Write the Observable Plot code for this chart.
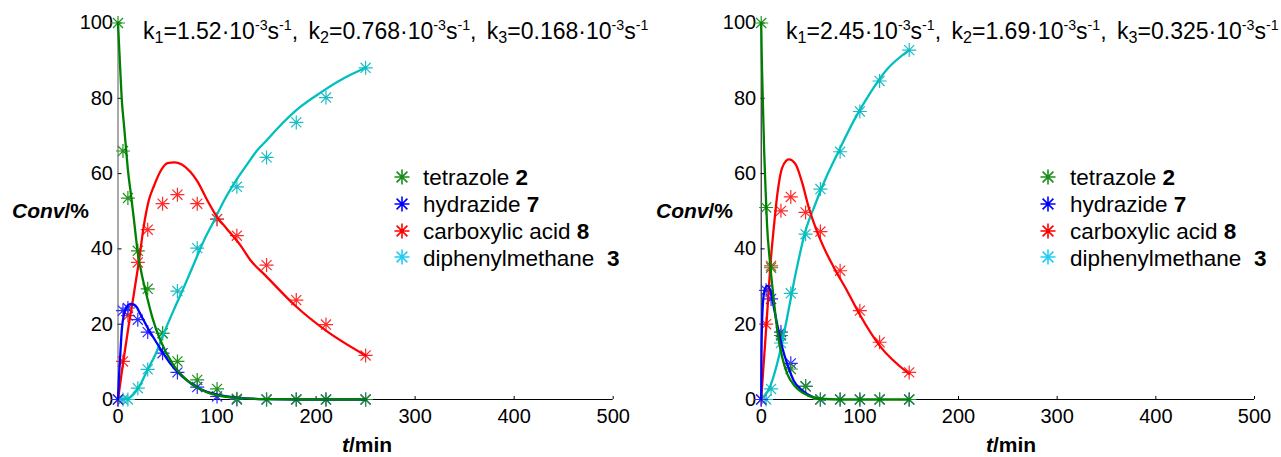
<!DOCTYPE html>
<html>
<head>
<meta charset="utf-8">
<script src="https://cdn.jsdelivr.net/npm/d3@7"></script>
<script src="https://cdn.jsdelivr.net/npm/@observablehq/plot@0.6"></script>
<style>
  html, body { margin: 0; padding: 0; background: #fff; }
  #wrap { position: relative; width: 1281px; height: 457px; overflow: hidden; font-family: "Liberation Sans", Arial, sans-serif; color: #000; }
  .panel { position: absolute; top: 0; }
  .ov { position: absolute; white-space: nowrap; }
  .title { font-size: 23px; line-height: 23px; word-spacing: 4px; }
  .title sub, .title sup { line-height: 0; vertical-align: baseline; position: relative; }
  .title sup { top: -0.6em; font-size: 0.62em; }
  .title sub { top: 0.22em; font-size: 0.7em; }
  .axlab { font-size: 21px; line-height: 21px; font-weight: bold; }
  .leg { font-size: 22.5px; line-height: 22px; }
  .leg b { font-weight: bold; }
  .leg svg { position: absolute; overflow: visible; }
</style>
</head>
<body>
<div id="wrap"></div>
<script>
// ---------- data ----------
const xTicks = [0, 100, 200, 300, 400, 500];
const yTicks = [0, 20, 40, 60, 80, 100];
const seriesNames = ["tetrazole", "hydrazide", "carboxylic acid", "diphenylmethane "];
const seriesNumbers = ["2", "7", "8", "3"];
const kA = ["1.52", "0.768", "0.168"];
const kB = ["2.45", "1.69", "0.325"];

// left panel – measured points
const tA = [0, 5, 10, 20, 30, 45, 60, 80, 100, 120, 150, 180, 210, 250];
const tetrazoleA = [100, 66, 53.5, 39.5, 29.4, 17.6, 10.1, 5.2, 2.8, 0.2, 0, 0, 0, 0];
const hydrazideA = [0, 23.6, 24.3, 21.2, 17.9, 12.3, 7.2, 3.3, 0.8, 0, 0, 0, 0, 0];
const acidA = [0, 10.1, 22.3, 36.4, 45.1, 52, 54.4, 52, 47.9, 43.5, 35.7, 26.4, 19.9, 11.7];
const diphenylA = [0, 0, 0, 3, 8, 17.6, 28.8, 40.2, 47.9, 56.5, 64.3, 73.6, 80.2, 88.1];

// left panel – model curves
const fitTetrazoleTA = [0, 2, 4, 6, 8, 10, 13, 16, 20, 25, 30, 35, 43, 55, 70, 90, 117, 150, 200, 250];
const fitTetrazoleA = [100, 89, 79, 73, 67, 61, 54.6, 48, 39, 32, 26.5, 21.5, 15.6, 9.5, 5, 1.9, 0.5, 0.1, 0, 0];
const fitHydrazideTA = [0, 1, 2, 4, 6, 8, 10, 13, 16, 19, 22, 26, 30, 35, 43, 53, 66, 83, 100, 120, 150, 200, 250];
const fitHydrazideA = [0, 6, 10.5, 19, 22.5, 24.2, 25, 25.4, 25.2, 24.5, 23, 21, 19, 16.8, 13.4, 9.5, 5.9, 2.8, 1.3, 0.5, 0.1, 0, 0];
const fitAcidTA = [0, 5, 11, 16, 21, 26, 31, 36, 43, 50, 57, 64, 73, 80, 90, 100, 110, 124, 134, 149, 179, 210, 250];
const fitAcidA = [0, 9.5, 20, 28, 36.5, 46, 52.8, 56.5, 60.7, 62.8, 63, 62.5, 60.5, 58, 53, 48.5, 45.3, 40.8, 36.9, 32.9, 24.9, 18.3, 11.7];
const fitDiphenylTA = [0, 9, 16, 23, 29.5, 38, 46, 56, 66.5, 76.6, 86.7, 97, 107, 118.7, 130.5, 140, 150, 161, 184, 204.5, 228, 250];
const fitDiphenylA = [0, 0.2, 1.5, 4.2, 7.7, 12.1, 17.4, 23.6, 29.8, 36, 42.2, 47.5, 52.8, 58, 62.5, 66, 68.8, 72, 77.7, 81.5, 85.3, 88.1];

// right panel – measured points
const tB = [0, 5, 10, 20, 30, 45, 60, 80, 100, 120, 150];
const tetrazoleB = [100, 51, 35, 17, 8.1, 3.5, 0, 0, 0, 0, 0];
const hydrazideB = [0, 29, 26.7, 17.9, 9.6, 3.5, 0, 0, 0, 0, 0];
const acidB = [0, 20, 35.5, 50.1, 53.8, 49.7, 44.6, 34.2, 23.6, 15.2, 7.2];
const diphenylB = [0, 0, 2.8, 15, 28.2, 43.9, 55.9, 65.8, 76.5, 84.6, 92.8];

// right panel – model curves
const fitTetrazoleTB = [0, 0.5, 1, 2, 3, 4.4, 6, 8.7, 12.8, 16.8, 21.3, 26.4, 35, 47, 60, 80, 100, 120, 150];
const fitTetrazoleB = [100, 92, 86, 76, 66, 56, 46, 37, 26.3, 17.4, 11.2, 6.8, 3.3, 1.1, 0.2, 0, 0, 0, 0];
const fitHydrazideTB = [0, 0.3, 1.3, 3.3, 6, 9.4, 12.8, 16.8, 21.3, 26.3, 33, 41.5, 53, 65];
const fitHydrazideB = [0, 13, 23.6, 28.9, 30.2, 28.9, 24.5, 19.2, 13.9, 9.5, 5, 2.4, 0.6, 0];
const fitAcidTB = [0, 2, 4.4, 6.7, 9.4, 12.8, 16.8, 21.3, 28, 34.8, 41.5, 48.2, 55, 63.4, 73.6, 87, 100, 120, 150];
const fitAcidB = [0, 7.7, 16.5, 25.4, 36, 45.7, 55.4, 61.6, 63.8, 62.5, 57.6, 51, 45.7, 40.4, 35.1, 28.9, 22.5, 14.3, 6.8];
const fitDiphenylTB = [0, 9.4, 17.8, 26.3, 34.8, 44.9, 55, 65, 78.6, 93.8, 110.7, 127.6, 150];
const fitDiphenylB = [0, 3.7, 11.2, 21.8, 33.3, 44.8, 52, 58.5, 66, 74, 81.5, 87.7, 92.8];

// ---------- styling ----------
const lineColors = ["#008000", "#0000ff", "#ff0000", "#00bfbf"];
const pointColors = ["#1f931f", "#2a2aff", "#ff2a2a", "#1cbcc4"];
const legendColors = ["#1a8c1a", "#0000ff", "#ff0000", "#22ccf2"];

const star8 = {
  draw(ctx, size) {
    const r = Math.sqrt(size / Math.PI);
    const d = r * 0.72;
    ctx.moveTo(-r, 0); ctx.lineTo(r, 0);
    ctx.moveTo(0, -r); ctx.lineTo(0, r);
    ctx.moveTo(-d, -d); ctx.lineTo(d, d);
    ctx.moveTo(-d, d); ctx.lineTo(d, -d);
  }
};

const zip = (ts, vs) => ts.map((t, i) => ({t, v: vs[i]}));

function panel(cfg) {
  const lineMarks = [3, 2, 1, 0].map(i =>
    Plot.line(zip(cfg.fitT[i], cfg.fitV[i]), {x: "t", y: "v", stroke: lineColors[i], strokeWidth: 2.3, curve: "monotone-x"})
  );
  const dotMarks = [3, 2, 1, 0].map(i =>
    Plot.dot(zip(cfg.t, cfg.pts[i]), {x: "t", y: "v", symbol: star8, r: 7, stroke: pointColors[i], fill: "none", strokeWidth: 1.2})
  );
  return Plot.plot({
    width: 640, height: 457,
    marginLeft: cfg.mL, marginRight: cfg.mR, marginTop: 22.5, marginBottom: 58,
    x: {domain: [0, 500]},
    y: {domain: [0, 100]},
    style: {fontFamily: '"Liberation Sans", Arial, sans-serif', fontSize: "20px", color: "#000", background: "transparent", overflow: "visible"},
    marks: [
      Plot.axisX({ticks: xTicks, tickSize: -3, tickPadding: 12, fontSize: 20, label: null, tickFormat: d => String(d)}),
      Plot.axisY({ticks: yTicks, tickSize: -4, tickPadding: 9, fontSize: 20, label: null, tickFormat: d => String(d)}),
      Plot.ruleY([0], {stroke: "#000"}),
      Plot.ruleX([0], {stroke: cfg.yAxisColor}),
      ...dotMarks,
      ...lineMarks
    ]
  });
}

const wrap = document.getElementById("wrap");

const left = panel({
  mL: 117.5, mR: 27.3, yAxisColor: "#555",
  t: tA, pts: [tetrazoleA, hydrazideA, acidA, diphenylA],
  fitT: [fitTetrazoleTA, fitHydrazideTA, fitAcidTA, fitDiphenylTA],
  fitV: [fitTetrazoleA, fitHydrazideA, fitAcidA, fitDiphenylA]
});
left.classList.add("panel"); left.style.left = "0px";
wrap.appendChild(left);

const right = panel({
  mL: 120.7, mR: 26, yAxisColor: "#000",
  t: tB, pts: [tetrazoleB, hydrazideB, acidB, diphenylB],
  fitT: [fitTetrazoleTB, fitHydrazideTB, fitAcidTB, fitDiphenylTB],
  fitV: [fitTetrazoleB, fitHydrazideB, fitAcidB, fitDiphenylB]
});
right.classList.add("panel"); right.style.left = "640px";
wrap.appendChild(right);

// ---------- overlays (titles, axis labels, legends) ----------
function addDiv(cls, left, top, html) {
  const d = document.createElement("div");
  d.className = "ov " + cls;
  d.style.left = left + "px";
  d.style.top = top + "px";
  d.innerHTML = html;
  wrap.appendChild(d);
  return d;
}
function titleHtml(k) {
  return k.map((v, i) =>
    `k<sub>${i + 1}</sub>=${v}·10<sup>-3</sup>s<sup>-1</sup>`
  ).join(", ");
}
addDiv("title", 143, 20, titleHtml(kA));
addDiv("title", 786, 20, titleHtml(kB));

const convHtml = "<i>Conv</i>/%";
const timeHtml = "<i>t</i>/min";
addDiv("axlab", 12, 200.2, convHtml);
addDiv("axlab", 656, 200.2, convHtml);
addDiv("axlab", 342, 434.4, timeHtml);
addDiv("axlab", 986, 434.4, timeHtml);

function legend(textLeft, starX) {
  const baselines = [186, 213, 240, 266.5];
  seriesNames.forEach((name, i) => {
    const top = baselines[i] - 18.9;
    const d = addDiv("leg", textLeft, top, `${name.replace(/ $/, "&nbsp;")} <b>${seriesNumbers[i]}</b>`);
    const s = 7.5, q = s * 0.72;
    const cx = starX - textLeft, cy = 9.8;
    d.insertAdjacentHTML("afterbegin",
      `<svg width="1" height="1" style="left:${cx}px;top:${cy}px"><path d="M${-s},0L${s},0M0,${-s}L0,${s}M${-q},${-q}L${q},${q}M${-q},${q}L${q},${-q}" stroke="${legendColors[i]}" stroke-width="1.6" fill="none"/></svg>`);
  });
}
legend(423, 401.7);
legend(1070, 1048.3);
</script>
</body>
</html>
